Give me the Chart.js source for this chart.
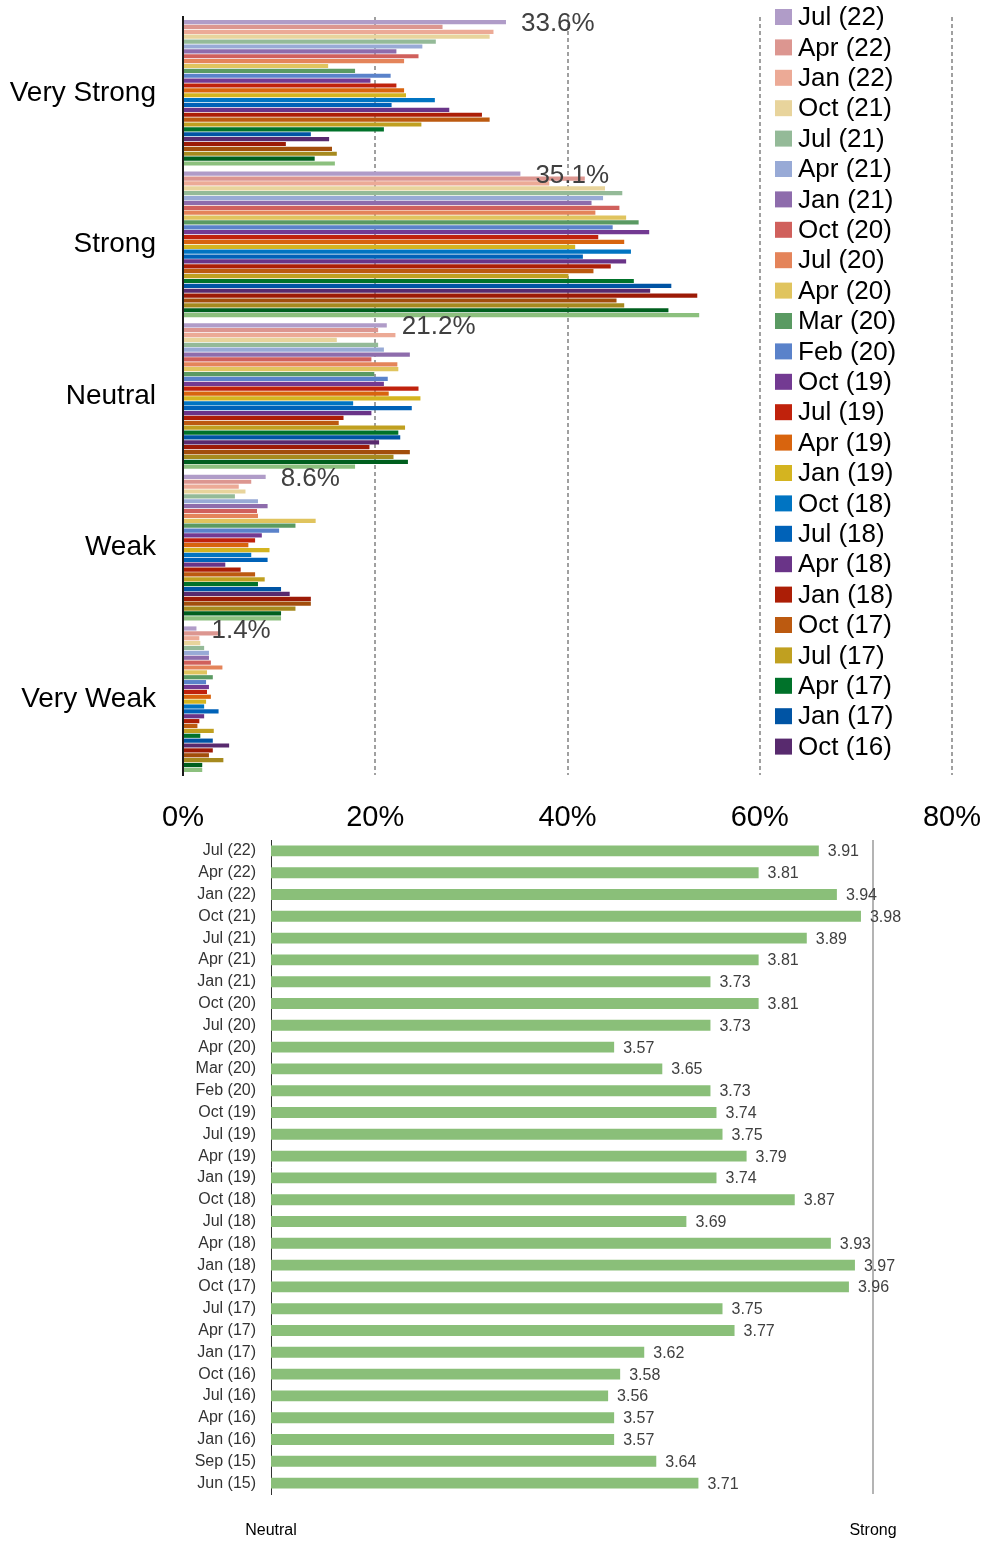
<!DOCTYPE html>
<html><head><meta charset="utf-8">
<script src="https://cdn.jsdelivr.net/npm/chart.js@4.4.1/dist/chart.umd.min.js"></script>
<style>
html,body{margin:0;padding:0;background:#fff;}
#wrap{position:relative;width:991px;height:1541px;overflow:hidden;}
#c1{position:absolute;left:0;top:0;width:991px;height:835px;}
#c2{position:absolute;left:0;top:835px;width:991px;height:706px;}
</style></head><body>
<div id="wrap">
<canvas id="c1" width="991" height="835"></canvas>
<canvas id="c2" width="991" height="706"></canvas>
</div>
<script>
const periods = ['Jul (22)','Apr (22)','Jan (22)','Oct (21)','Jul (21)','Apr (21)','Jan (21)','Oct (20)','Jul (20)','Apr (20)','Mar (20)','Feb (20)','Oct (19)','Jul (19)','Apr (19)','Jan (19)','Oct (18)','Jul (18)','Apr (18)','Jan (18)','Oct (17)','Jul (17)','Apr (17)','Jan (17)','Oct (16)','Jul (16)','Apr (16)','Jan (16)','Sep (15)','Jun (15)'];
const strengthCategories = ['Very Strong','Strong','Neutral','Weak','Very Weak'];
const veryStrong = [33.6,27.0,32.3,31.9,26.3,24.9,22.2,24.5,23.0,15.1,17.9,21.6,19.5,22.2,23.0,23.2,26.2,21.7,27.7,31.1,31.9,24.8,20.9,13.3,15.2,10.7,15.5,16.0,13.7,15.8];
const strong = [35.1,41.8,38.1,43.9,45.7,43.7,42.5,45.4,42.9,46.1,47.4,44.7,48.5,43.2,45.9,40.8,46.6,41.6,46.1,44.5,42.7,40.1,46.9,50.8,48.6,53.5,45.1,45.9,50.5,53.7];
const neutral = [21.2,20.3,22.1,16.0,20.3,20.9,23.6,19.6,22.3,22.4,19.9,21.3,20.9,24.5,21.4,24.7,17.7,23.8,19.6,16.7,16.2,23.1,22.4,22.6,20.4,19.4,23.6,21.9,23.4,17.9];
const weak = [8.6,7.1,5.8,6.5,5.4,7.8,8.8,7.7,7.8,13.8,11.7,10.0,8.2,7.5,6.8,9.0,7.1,8.8,4.4,6.0,7.5,8.5,7.8,10.2,11.1,13.3,13.3,11.7,10.2,10.2];
const veryWeak = [1.4,3.9,1.7,1.8,2.2,2.7,2.7,2.9,4.1,2.5,3.1,2.4,2.7,2.5,2.9,2.4,2.2,3.7,2.2,1.7,1.5,3.2,1.8,3.1,4.8,3.1,2.7,4.2,2.0,2.0];
const seriesColors = ['#b09cc8','#dc9690','#ecaa96','#e8d49c','#94ba98','#98aad6','#8e6cac','#d0605c','#e4845a','#e0c45e','#5a9a62','#5a82ca','#733a92','#c0220c','#d8640e','#d4b420','#0074c2','#0062b8','#6a3488','#ac1e06','#bc5a10','#c0a020','#00722a','#0054a4','#582a6e','#9c1a06','#a24e0c','#a68a1e','#005f1e','#8cc07e'];
const percentTicks = [0,20,40,60,80];
const meanScores = [3.91,3.81,3.94,3.98,3.89,3.81,3.73,3.81,3.73,3.57,3.65,3.73,3.74,3.75,3.79,3.74,3.87,3.69,3.93,3.97,3.96,3.75,3.77,3.62,3.58,3.56,3.57,3.57,3.64,3.71];
const scoreTickLabels = {3:'Neutral', 4:'Strong'};

const FONT = '"Liberation Sans", Arial, sans-serif';
Chart.defaults.font.family = FONT;

const topDatasets = periods.map((p, i) => ({
  label: p,
  data: [veryStrong[i], strong[i], neutral[i], weak[i], veryWeak[i]],
  backgroundColor: seriesColors[i],
  borderWidth: 0
}));

const topLabelPlugin = {
  id: 'topLabels',
  afterDatasetsDraw(chart) {
    const ctx = chart.ctx;
    const meta = chart.getDatasetMeta(0);
    ctx.save();
    ctx.font = '26px ' + FONT;
    ctx.fillStyle = '#404040';
    ctx.textAlign = 'left';
    ctx.textBaseline = 'middle';
    meta.data.forEach((bar, j) => {
      const v = chart.data.datasets[0].data[j];
      ctx.fillText(v.toFixed(1) + '%', bar.x + 15, bar.y + 2);
    });
    ctx.restore();
  }
};

const sideLegendPlugin = {
  id: 'sideLegend',
  afterDraw(chart) {
    const {ctx, chartArea} = chart;
    ctx.save();
    ctx.font = '26px ' + FONT;
    ctx.textAlign = 'left';
    ctx.textBaseline = 'middle';
    const step = 30.4, x0 = 775;
    chart.data.datasets.forEach((ds, i) => {
      const cy = chartArea.top + i * step;
      if (cy + 14 > chartArea.bottom) return;
      ctx.fillStyle = ds.backgroundColor;
      ctx.fillRect(x0, cy - 8, 17, 16);
      ctx.fillStyle = '#000';
      ctx.fillText(ds.label, x0 + 23, cy + 1);
    });
    ctx.restore();
  }
};

new Chart(document.getElementById('c1'), {
  type: 'bar',
  data: { labels: strengthCategories, datasets: topDatasets },
  options: {
    indexAxis: 'y',
    responsive: false,
    animation: false,
    devicePixelRatio: 1,
    layout: { padding: { top: 17, right: 39, left: 0, bottom: 0 } },
    datasets: { bar: { categoryPercentage: 0.965, barPercentage: 0.86 } },
    plugins: { legend: { display: false }, tooltip: { enabled: false } },
    scales: {
      x: {
        min: 0, max: 80,
        afterBuildTicks: s => { s.ticks = percentTicks.map(v => ({ value: v })); },
        afterFit: s => { s.height = 60; s.paddingLeft = 0; s.paddingRight = 0; },
        ticks: { padding: 26, color: '#000', font: { size: 29 }, callback: v => v + '%' },
        grid: { color: c => (c.tick && c.tick.value === 0) ? 'rgba(0,0,0,0)' : '#a0a0a0', lineWidth: 2, drawTicks: false },
        border: { display: false, dash: [4, 3] }
      },
      y: {
        afterFit: s => { s.width = 183; s.paddingTop = 0; s.paddingBottom = 0; },
        ticks: { padding: 27, color: '#000', font: { size: 28 }, autoSkip: false },
        grid: { display: false, drawTicks: false },
        border: { display: true, color: '#1a1a1a', width: 2 }
      }
    }
  },
  plugins: [topLabelPlugin, sideLegendPlugin]
});

const bottomLabelPlugin = {
  id: 'bottomLabels',
  afterDatasetsDraw(chart) {
    const ctx = chart.ctx;
    const meta = chart.getDatasetMeta(0);
    ctx.save();
    ctx.font = '16px ' + FONT;
    ctx.fillStyle = '#404040';
    ctx.textAlign = 'left';
    ctx.textBaseline = 'middle';
    meta.data.forEach((bar, j) => {
      ctx.fillText(chart.data.datasets[0].data[j].toFixed(2), bar.x + 9, bar.y + 1);
    });
    ctx.restore();
  }
};

new Chart(document.getElementById('c2'), {
  type: 'bar',
  data: { labels: periods, datasets: [{ data: meanScores, backgroundColor: '#8abf79', borderWidth: 0, categoryPercentage: 1, barPercentage: 0.5 }] },
  options: {
    indexAxis: 'y',
    responsive: false,
    animation: false,
    devicePixelRatio: 1,
    layout: { padding: { top: 5, right: 118, left: 0, bottom: 0 } },
    plugins: { legend: { display: false }, tooltip: { enabled: false } },
    scales: {
      x: {
        min: 3, max: 4,
        afterBuildTicks: s => { s.ticks = Object.keys(scoreTickLabels).map(v => ({ value: +v })); },
        afterFit: s => { s.height = 47; s.paddingLeft = 0; s.paddingRight = 0; },
        ticks: { padding: 27, color: '#000', font: { size: 16 }, callback: v => scoreTickLabels[v] || '' },
        grid: { color: c => (c.tick && c.tick.value === 4) ? '#b4b4b4' : 'rgba(0,0,0,0)', lineWidth: 2, drawTicks: false },
        border: { display: false }
      },
      y: {
        afterFit: s => { s.width = 271; s.paddingTop = 0; s.paddingBottom = 0; },
        ticks: { padding: 15, color: '#333', font: { size: 16 }, autoSkip: false },
        grid: { display: false, drawTicks: false },
        border: { display: true, color: '#333', width: 1 }
      }
    }
  },
  plugins: [bottomLabelPlugin]
});
</script>
</body></html>
